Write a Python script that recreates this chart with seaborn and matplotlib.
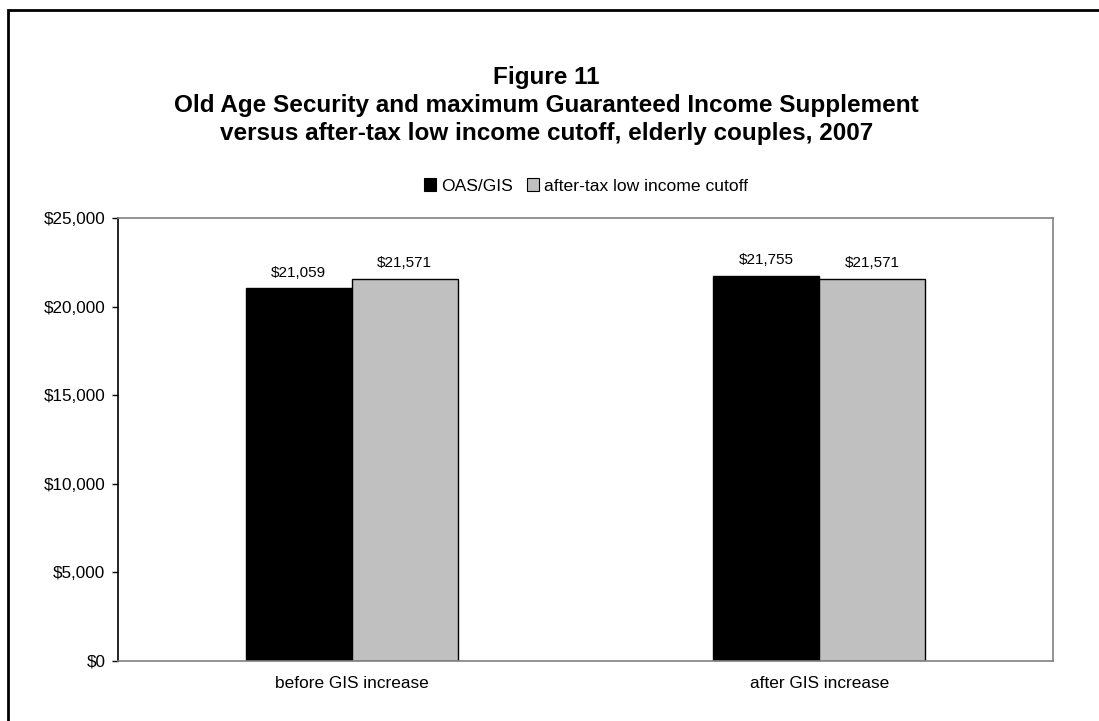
import matplotlib
matplotlib.use("Agg")
import matplotlib.pyplot as plt
from matplotlib.patches import Rectangle
from matplotlib.ticker import FuncFormatter, MultipleLocator
import seaborn as sns
import pandas as pd

categories = ["before GIS increase", "after GIS increase"]
series_names = ["OAS/GIS", "after-tax low income cutoff"]
oas_gis = [21059, 21755]
lico = [21571, 21571]
colors = ["#000000", "#C0C0C0"]
title_lines = ["Figure 11",
               "Old Age Security and maximum Guaranteed Income Supplement",
               "versus after-tax low income cutoff, elderly couples, 2007"]

sns.set_style("white")
plt.rcParams['font.family'] = ['Liberation Sans', 'DejaVu Sans']
plt.rcParams['text.color'] = 'black'
plt.rcParams['xtick.color'] = 'black'
plt.rcParams['ytick.color'] = 'black'

df = pd.DataFrame({
    "category": categories * 2,
    "series": [series_names[0]] * 2 + [series_names[1]] * 2,
    "value": oas_gis + lico,
})

W, H = 1099, 721
fig = plt.figure(figsize=(W / 100, H / 100), dpi=100)
ax = fig.add_axes([118 / W, 1 - 661 / H, (1053 - 118) / W, (661 - 218) / H])

sns.barplot(data=df, x="category", y="value", hue="series", order=categories,
            hue_order=series_names, palette=colors, width=0.453, ax=ax,
            edgecolor="black", linewidth=1.0, legend=False, saturation=1)

ax.set_ylim(0, 25000)
ax.set_xlim(-0.5, 1.5)
ax.yaxis.set_major_locator(MultipleLocator(5000))
ax.yaxis.set_major_formatter(FuncFormatter(lambda v, p: f"${v:,.0f}"))
ax.set_xlabel("")
ax.set_ylabel("")
ax.tick_params(axis="y", which="major", left=True, length=4, width=1, color="black",
               labelsize=12.3, pad=5, labelcolor="black")
ax.tick_params(axis="x", bottom=False, length=0, labelsize=12.4, pad=11,
               labelcolor="black")
for side in ["top", "right", "bottom"]:
    ax.spines[side].set_color("#808080")
    ax.spines[side].set_linewidth(1.2)
    ax.spines[side].set_visible(True)
ax.spines["left"].set_color("black")
ax.spines["left"].set_linewidth(1.2)

for cont in ax.containers:
    ax.bar_label(cont, labels=[f"${v:,.0f}" for v in cont.datavalues],
                 padding=6, fontsize=11, color="black")

# Legend
handles = [Rectangle((0, 0), 1, 1, facecolor=c, edgecolor="black", linewidth=0.8)
           for c in colors]
fig.legend(handles, series_names, loc="center", bbox_to_anchor=(586 / W, 1 - 186 / H),
           ncol=2, frameon=False, fontsize=12.6, handlelength=0.7, handleheight=0.7,
           handletextpad=0.3, columnspacing=0.8, borderpad=0)

# Titles
for txt, yb in zip(title_lines, [84, 112, 140]):
    fig.text(546.5 / W, 1 - yb / H, txt, ha="center", va="baseline",
             fontsize=17.5, fontweight="bold", color="black")

# Outer frame (extends beyond right and bottom edges)
fig.patches.append(Rectangle((7.5 / W, -0.05), 1.2, 1 - 10.5 / H + 0.05,
                             transform=fig.transFigure, fill=False,
                             edgecolor="black", linewidth=2, figure=fig))

fig.savefig("out.png", dpi=100)
